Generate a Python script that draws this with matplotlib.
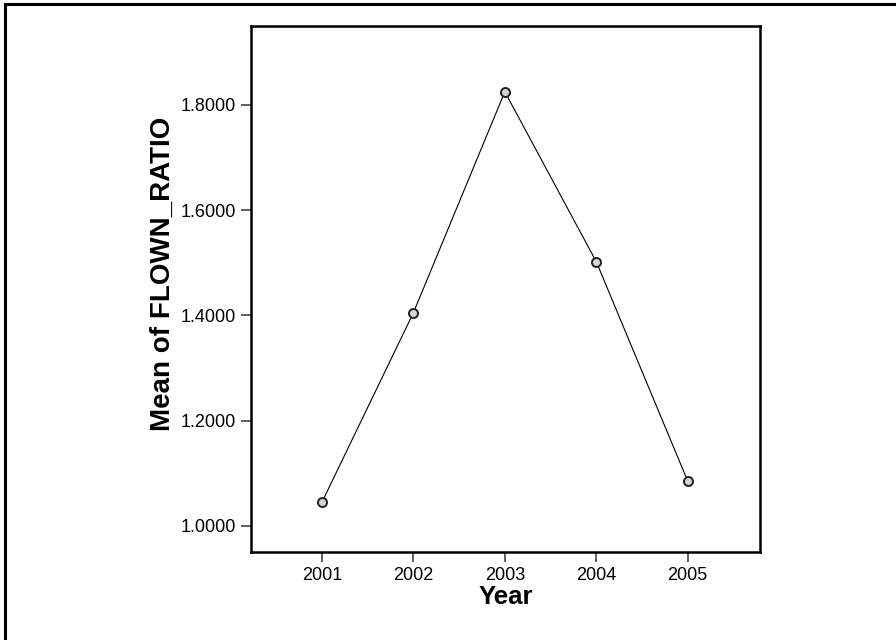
import matplotlib
matplotlib.use("Agg")
import matplotlib.pyplot as plt
from matplotlib.lines import Line2D

years = [2001, 2002, 2003, 2004, 2005]
mean_flown_ratio = [1.045, 1.405, 1.825, 1.502, 1.085]
y_ticks = [1.0, 1.2, 1.4, 1.6, 1.8]

plt.rcParams['font.family'] = ['Liberation Sans', 'DejaVu Sans']

fig = plt.figure(figsize=(8.96, 6.4), dpi=100)
ax = fig.add_axes([0.2801, 0.138, 0.5681, 0.8214])

ax.plot(years, mean_flown_ratio, color='black', linewidth=0.8,
        marker='o', markersize=6.5, markerfacecolor='#d4d4d4',
        markeredgecolor='#222222', markeredgewidth=1.4)

ax.set_xlim(2000.224, 2005.79)
ax.set_ylim(0.951, 1.95)
ax.set_xticks(years)
ax.set_xticklabels([str(y) for y in years])
ax.set_yticks(y_ticks)
ax.set_yticklabels([f"{v:.4f}" for v in y_ticks])

ax.tick_params(axis='both', direction='out', length=7, width=1.2,
               color='#444444', labelsize=13, pad=4)

for s in ax.spines.values():
    s.set_linewidth(1.8)
    s.set_color('black')

ax.set_xlabel('Year', fontsize=18.5, fontweight='bold', labelpad=1)
ax.set_ylabel('Mean of FLOWN_RATIO', fontsize=20, fontweight='bold')
ax.yaxis.set_label_coords(-0.148, 0.528)

# outer frame edges (top and left)
fig.add_artist(Line2D([5 / 896, 5 / 896], [0, 1 - 4 / 640], transform=fig.transFigure,
                      color='black', linewidth=2.2))
fig.add_artist(Line2D([5 / 896, 1], [1 - 4 / 640, 1 - 4 / 640], transform=fig.transFigure,
                      color='black', linewidth=2.2))

fig.savefig('out.png', dpi=100, facecolor='white')
